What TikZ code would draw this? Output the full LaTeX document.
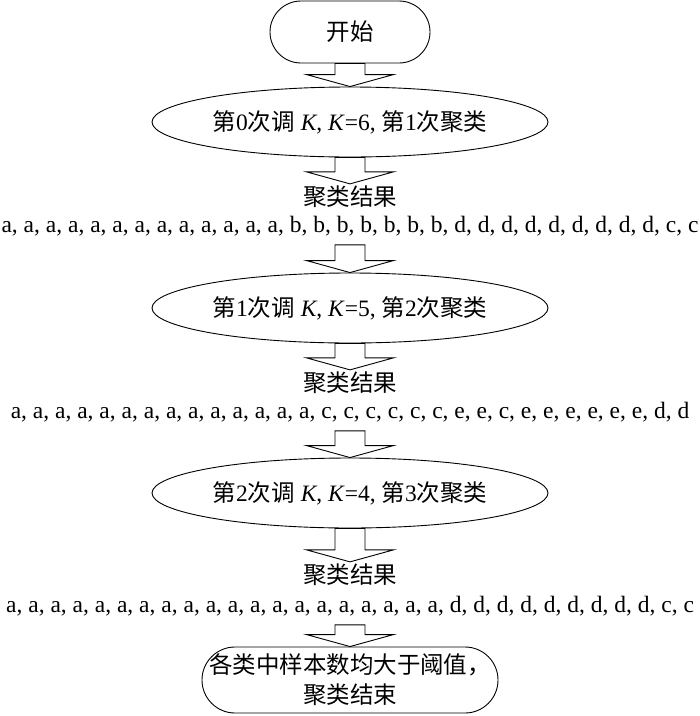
\documentclass[tikz,border=0pt]{standalone}
\usepackage{fontspec}
\setmainfont{Liberation Serif}
\newfontfamily\cjk{Noto Sans CJK SC}
\usetikzlibrary{shapes.geometric,calc}
\tikzset{
  txt/.style={font=\fontsize{23.5}{30}\selectfont},
  term/.style={draw, line width=0.9pt, rounded corners=31pt, minimum width=160pt, minimum height=62pt, inner sep=0pt, txt},
  oval/.style={draw, ellipse, line width=0.9pt, minimum width=396pt, minimum height=70pt, inner sep=0pt, txt},
  lbl/.style={inner sep=2pt, font=\fontsize{23.5}{30}\selectfont\cjk},
  seq/.style={inner xsep=0pt, inner ysep=9pt, anchor=base, txt},
  barrowline/.style={draw, line width=0.9pt, line join=miter},
}
\newcommand\barrow[2]{\path[barrowline] let \p1=(#1), \p2=(#2) in
  (\x1-15pt,\y1) -- (\x1-15pt,\y2+12pt) -- (\x1-43.5pt,\y2+12pt) -- (\x1,\y2)
  -- (\x1+43.5pt,\y2+12pt) -- (\x1+15pt,\y2+12pt) -- (\x1+15pt,\y1) -- cycle;}
\begin{document}
\begin{tikzpicture}[x=1pt,y=-1pt]
\useasboundingbox (0,0) rectangle (700,716);
\node[term] (start) at (350,32) {\cjk 开始};
\node[oval] (e1) at (350,122) {{\cjk 第}0{\cjk 次调} \textit{K}, \textit{K}=6, {\cjk 第}1{\cjk 次聚类}};
\node[lbl] (l1) at (350,197) {聚类结果};
\node[seq] (s1) at (350,232) {a, a, a, a, a, a, a, a, a, a, a, a, a, b, b, b, b, b, b, b, d, d, d, d, d, d, d, d, d, c, c};
\node[oval] (e2) at (350,308) {{\cjk 第}1{\cjk 次调} \textit{K}, \textit{K}=5, {\cjk 第}2{\cjk 次聚类}};
\node[lbl] (l2) at (350,383) {聚类结果};
\node[seq] (s2) at (350,418) {a, a, a, a, a, a, a, a, a, a, a, a, a, a, c, c, c, c, c, c, e, e, c, e, e, e, e, e, e, d, d};
\node[oval] (e3) at (350,493) {{\cjk 第}2{\cjk 次调} \textit{K}, \textit{K}=4, {\cjk 第}3{\cjk 次聚类}};
\node[lbl] (l3) at (350,575) {聚类结果};
\node[seq] (s3) at (350,612) {a, a, a, a, a, a, a, a, a, a, a, a, a, a, a, a, a, a, a, a, d, d, d, d, d, d, d, d, d, c, c};
\node[term, rounded corners=33pt, minimum width=296pt, minimum height=66pt, align=center, font=\fontsize{23.5}{30}\selectfont\cjk] (stop) at (350,680) {各类中样本数均大于阈值，\\聚类结束};
\barrow{start.south}{e1.north}
\barrow{e1.south}{l1.north}
\barrow{s1.south}{e2.north}
\barrow{e2.south}{l2.north}
\barrow{s2.south}{e3.north}
\barrow{e3.south}{l3.north}
\barrow{s3.south}{stop.north}
\end{tikzpicture}
\end{document}
